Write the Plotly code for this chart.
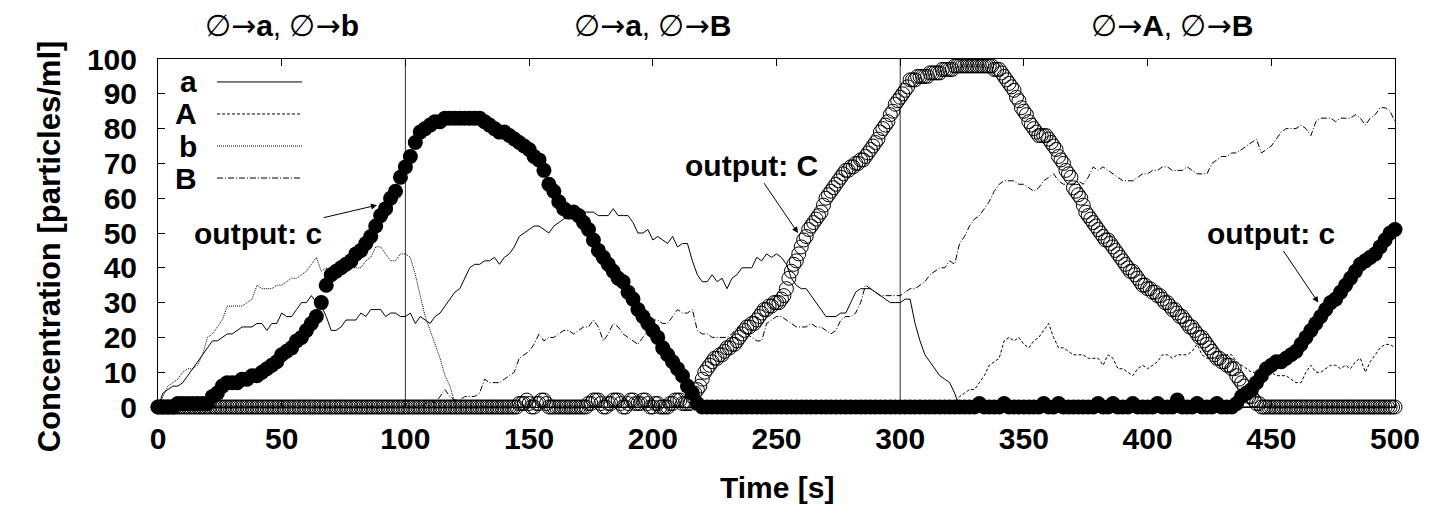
import plotly.graph_objects as go

# time axis of the lines and of c, one sample every 2 s
t = list(range(0, 501, 2))
# time axis of C, one sample every 1 s
tC = list(range(0, 501))

# a: solid line
a = [0, 4, 5, 6, 6, 7, 9, 11, 13, 15,
     17, 19, 19, 20, 21, 21, 22, 23, 23, 23,
     24, 24, 22, 24, 24, 27, 26, 26, 28, 30,
     30, 32, 30, 29, 26, 22, 22, 23, 25, 25,
     25, 27, 26, 28, 28, 28, 26, 27, 27, 26,
     26, 27, 24, 26, 25, 24, 26, 27, 29, 31,
     33, 34, 37, 40, 41, 41, 42, 42, 43, 41,
     43, 44, 46, 49, 50, 51, 52, 52, 51, 50,
     52, 53, 54, 55, 55, 55, 56, 56, 56, 55,
     55, 55, 57, 55, 55, 55, 53, 50, 50, 51,
     48, 49, 48, 47, 49, 46, 47, 47, 42, 38,
     36, 36, 38, 36, 37, 34, 37, 38, 40, 40,
     40, 43, 42, 44, 43, 44, 43, 41, 37, 35,
     34, 34, 32, 30, 28, 26, 26, 26, 27, 27,
     30, 33, 34, 34, 34, 33, 32, 31, 30, 30,
     30, 31, 31, 24, 19, 15, 13, 11, 9, 8,
     7, 4, 0, 0, 0, 0, 0, 0, 0, 0,
     0, 0, 0, 0, 0, 0, 0, 0, 0, 0,
     0, 0, 0, 0, 0, 0, 0, 0, 0, 0,
     0, 0, 0, 0, 0, 0, 0, 0, 0, 0,
     0, 0, 0, 0, 0, 0, 0, 0, 0, 0,
     0, 0, 0, 0, 0, 0, 0, 0, 0, 0,
     0, 0, 0, 0, 0, 0, 0, 0, 0, 0,
     0, 0, 0, 0, 0, 0, 0, 0, 0, 0,
     0, 0, 0, 0, 0, 0, 0, 0, 0, 0,
     0]

# A: dashed line
A = [0, 0, 0, 0, 0, 0, 0, 0, 0, 0,
     0, 0, 0, 0, 0, 0, 0, 0, 0, 0,
     0, 0, 0, 0, 0, 0, 0, 0, 0, 0,
     0, 0, 0, 0, 0, 0, 0, 0, 0, 0,
     0, 0, 0, 0, 0, 0, 0, 0, 0, 0,
     0, 0, 0, 0, 0, 0, 0, 0, 0, 0,
     0, 0, 0, 0, 0, 0, 0, 0, 0, 0,
     0, 0, 0, 0, 0, 0, 0, 0, 0, 0,
     0, 0, 0, 0, 0, 0, 0, 0, 0, 0,
     0, 0, 0, 0, 0, 0, 0, 0, 0, 0,
     0, 0, 0, 0, 0, 0, 0, 0, 0, 0,
     0, 0, 0, 0, 0, 0, 0, 0, 0, 0,
     0, 0, 0, 0, 0, 0, 0, 0, 0, 0,
     0, 0, 0, 0, 0, 0, 0, 0, 0, 0,
     0, 0, 0, 0, 0, 0, 0, 0, 0, 0,
     0, 0, 0, 0, 0, 0, 0, 0, 0, 0,
     0, 1, 3, 4, 5, 5, 7, 9, 12, 13,
     14, 19, 20, 19, 20, 18, 17, 19, 20, 22,
     24, 20, 17, 17, 16, 15, 15, 15, 14, 14,
     14, 12, 15, 14, 11, 11, 10, 9, 11, 12,
     11, 12, 13, 15, 15, 14, 15, 15, 15, 16,
     18, 15, 14, 14, 14, 14, 15, 15, 13, 12,
     11, 10, 10, 10, 10, 10, 9, 9, 9, 8,
     7, 7, 10, 12, 10, 10, 11, 12, 12, 11,
     12, 11, 13, 14, 10, 13, 15, 17, 18, 18,
     17]

# b: dotted line
b = [0, 3, 6, 7, 8, 10, 11, 11, 12, 15,
     20, 21, 23, 25, 29, 29, 29, 29, 30, 31,
     35, 34, 34, 34, 35, 35, 36, 37, 37, 38,
     39, 41, 43, 39, 40, 39, 40, 40, 41, 40,
     40, 40, 42, 43, 46, 46, 44, 42, 42, 44,
     44, 43, 38, 32, 26, 22, 18, 14, 9, 6,
     1, 0, 0, 0, 0, 0, 0, 0, 0, 0,
     0, 0, 0, 0, 0, 0, 0, 0, 0, 0,
     0, 0, 0, 0, 0, 0, 0, 0, 0, 0,
     0, 0, 0, 0, 0, 0, 0, 0, 0, 0,
     0, 0, 0, 0, 0, 0, 0, 0, 0, 0,
     0, 0, 0, 0, 0, 0, 0, 0, 0, 0,
     0, 0, 0, 0, 0, 0, 0, 0, 0, 0,
     0, 0, 0, 0, 0, 0, 0, 0, 0, 0,
     0, 0, 0, 0, 0, 0, 0, 0, 0, 0,
     0, 0, 0, 0, 0, 0, 0, 0, 0, 0,
     0, 0, 0, 0, 0, 0, 0, 0, 0, 0,
     0, 0, 0, 0, 0, 0, 0, 0, 0, 0,
     0, 0, 0, 0, 0, 0, 0, 0, 0, 0,
     0, 0, 0, 0, 0, 0, 0, 0, 0, 0,
     0, 0, 0, 0, 0, 0, 0, 0, 0, 0,
     0, 0, 0, 0, 0, 0, 0, 0, 0, 0,
     0, 0, 0, 0, 0, 0, 0, 0, 0, 0,
     0, 0, 0, 0, 0, 0, 0, 0, 0, 0,
     0, 0, 0, 0, 0, 0, 0, 0, 0, 0,
     0]

# B: dash-dot line
B = [0, 0, 0, 0, 0, 0, 0, 0, 0, 0,
     0, 0, 0, 0, 0, 0, 0, 0, 0, 0,
     0, 0, 0, 0, 0, 0, 0, 0, 0, 0,
     0, 0, 0, 0, 0, 0, 0, 0, 0, 0,
     0, 0, 0, 0, 0, 0, 0, 0, 0, 0,
     0, 0, 0, 0, 1, 2, 1, 3, 5, 3,
     2, 2, 3, 3, 3, 4, 8, 7, 7, 7,
     8, 9, 10, 14, 15, 16, 18, 21, 19, 20,
     20, 21, 22, 22, 21, 22, 23, 23, 25, 23,
     19, 21, 24, 23, 21, 20, 19, 18, 20, 22,
     25, 25, 24, 24, 26, 28, 27, 27, 28, 22,
     21, 21, 20, 20, 20, 20, 21, 23, 22, 21,
     20, 19, 19, 24, 25, 26, 26, 25, 24, 23,
     23, 23, 24, 23, 23, 22, 21, 22, 25, 26,
     26, 27, 30, 35, 34, 33, 32, 32, 32, 32,
     32, 33, 34, 34, 35, 36, 38, 39, 40, 40,
     42, 41, 47, 49, 52, 54, 55, 57, 59, 62,
     64, 65, 65, 65, 64, 64, 63, 62, 63, 65,
     66, 67, 65, 64, 64, 64, 65, 64, 66, 69,
     68, 69, 68, 67, 66, 65, 65, 65, 66, 67,
     67, 68, 68, 69, 69, 68, 68, 68, 69, 68,
     67, 67, 67, 70, 71, 72, 72, 73, 73, 74,
     75, 76, 77, 73, 74, 75, 77, 79, 80, 80,
     80, 81, 80, 78, 82, 83, 83, 83, 82, 83,
     83, 83, 84, 83, 81, 83, 84, 86, 86, 85,
     82]

# c: output, filled circles
c = [0, 0, 0, 0, 1, 1, 1, 1, 1, 1,
     1, 3, 4, 6, 7, 7, 7, 8, 8, 9,
     9, 10, 11, 12, 13, 15, 16, 17, 19, 20,
     22, 24, 26, 30, 35, 38, 39, 40, 41, 42,
     44, 45, 47, 49, 52, 55, 57, 60, 62, 66,
     69, 72, 76, 79, 80, 81, 82, 82, 83, 83,
     83, 83, 83, 83, 83, 83, 82, 81, 80, 79,
     79, 78, 77, 76, 75, 74, 72, 71, 68, 64,
     62, 59, 57, 56, 56, 55, 53, 51, 48, 45,
     43, 41, 39, 37, 36, 33, 31, 28, 26, 24,
     22, 20, 17, 15, 13, 11, 9, 6, 4, 1,
     0, 0, 0, 0, 0, 0, 0, 0, 0, 0,
     0, 0, 0, 0, 0, 0, 0, 0, 0, 0,
     0, 0, 0, 0, 0, 0, 0, 0, 0, 0,
     0, 0, 0, 0, 0, 0, 0, 0, 0, 0,
     0, 0, 0, 0, 0, 0, 0, 0, 0, 0,
     0, 0, 0, 0, 0, 0, 1, 0, 0, 0,
     0, 1, 0, 0, 0, 0, 0, 0, 0, 1,
     0, 0, 1, 0, 0, 0, 0, 0, 0, 0,
     1, 0, 0, 1, 0, 0, 0, 1, 0, 0,
     0, 0, 1, 0, 0, 0, 2, 0, 0, 0,
     1, 0, 0, 0, 1, 0, 0, 0, 1, 3,
     4, 5, 7, 9, 11, 12, 13, 13, 14, 15,
     16, 18, 20, 22, 24, 26, 28, 30, 31, 33,
     35, 37, 39, 41, 42, 43, 44, 46, 48, 50,
     51]

# C: output, open circles (1 s steps)
C = [0, 0, 0, 0, 0, 0, 0, 0, 0, 0,
     0, 0, 0, 0, 0, 0, 0, 0, 0, 0,
     0, 0, 0, 0, 0, 0, 0, 0, 0, 0,
     0, 0, 0, 0, 0, 0, 0, 0, 0, 0,
     0, 0, 0, 0, 0, 0, 0, 0, 0, 0,
     0, 0, 0, 0, 0, 0, 0, 0, 0, 0,
     0, 0, 0, 0, 0, 0, 0, 0, 0, 0,
     0, 0, 0, 0, 0, 0, 0, 0, 0, 0,
     0, 0, 0, 0, 0, 0, 0, 0, 0, 0,
     0, 0, 0, 0, 0, 0, 0, 0, 0, 0,
     0, 0, 0, 0, 0, 0, 0, 0, 0, 0,
     0, 0, 0, 0, 0, 0, 0, 0, 0, 0,
     0, 0, 0, 0, 0, 0, 0, 0, 0, 0,
     0, 0, 0, 0, 0, 0, 0, 0, 0, 0,
     0, 0, 0, 0, 0, 0, 1, 1, 1, 2,
     1, 0, 0, 1, 1, 2, 2, 1, 0, 0,
     0, 0, 0, 0, 0, 0, 0, 0, 0, 0,
     0, 0, 0, 0, 1, 1, 2, 2, 2, 1,
     0, 0, 1, 1, 2, 2, 2, 1, 0, 0,
     1, 2, 2, 1, 1, 1, 2, 2, 1, 0,
     0, 1, 1, 0, 0, 0, 0, 1, 1, 2,
     2, 2, 1, 1, 1, 1, 3, 4, 5, 6,
     8, 10, 11, 12, 13, 14, 14, 15, 15, 16,
     17, 17, 18, 18, 19, 20, 21, 22, 23, 23,
     24, 24, 25, 26, 27, 28, 28, 29, 29, 30,
     30, 30, 31, 32, 34, 37, 39, 41, 42, 44,
     46, 48, 49, 51, 52, 53, 54, 55, 56, 58,
     60, 61, 62, 63, 64, 65, 66, 67, 68, 68,
     69, 69, 70, 70, 71, 71, 72, 73, 74, 75,
     76, 77, 79, 80, 81, 82, 84, 85, 87, 88,
     89, 90, 91, 92, 94, 94, 94, 95, 95, 95,
     95, 95, 96, 96, 96, 96, 96, 97, 97, 97,
     97, 97, 98, 98, 98, 98, 98, 98, 98, 98,
     98, 98, 98, 98, 98, 98, 98, 98, 97, 97,
     97, 96, 95, 94, 93, 92, 91, 89, 88, 86,
     85, 84, 82, 81, 80, 79, 78, 78, 78, 78,
     77, 76, 75, 74, 72, 71, 70, 68, 67, 66,
     63, 62, 61, 60, 58, 56, 55, 54, 53, 52,
     51, 50, 49, 48, 48, 47, 46, 45, 44, 43,
     42, 41, 40, 39, 39, 38, 37, 36, 35, 35,
     34, 34, 33, 33, 32, 32, 31, 30, 30, 29,
     28, 28, 27, 26, 26, 25, 24, 23, 23, 22,
     21, 20, 20, 19, 18, 17, 16, 15, 14, 14,
     13, 13, 12, 12, 11, 11, 9, 8, 7, 6,
     4, 3, 3, 2, 1, 1, 0, 0, 0, 0,
     0, 0, 0, 0, 0, 0, 0, 0, 0, 0,
     0, 0, 0, 0, 0, 0, 0, 0, 0, 0,
     0, 0, 0, 0, 0, 0, 0, 0, 0, 0,
     0, 0, 0, 0, 0, 0, 0, 0, 0, 0,
     0, 0, 0, 0, 0, 0, 0, 0, 0, 0,
     0]

ARROW = "<span style='font-family:DejaVu Sans'>→</span>"
phase_labels = ["∅" + ARROW + "<b>a</b>, ∅" + ARROW + "<b>b</b>",
                "∅" + ARROW + "<b>a</b>, ∅" + ARROW + "<b>B</b>",
                "∅" + ARROW + "<b>A</b>, ∅" + ARROW + "<b>B</b>"]
phase_label_x = [50, 200, 410]
phase_bounds = [100, 300]

# (text, arrow head x, y, text x, y)
outputs = [("output: c", 88.5, 58, 40.5, 50),
           ("output: C", 258.7, 50, 240, 69.5),
           ("output: c", 469, 30, 450, 50)]

FONT = "Liberation Sans, Arial, Helvetica, sans-serif"
bold = dict(family=FONT, size=30, color="black", weight="bold")
plain = dict(family=FONT, size=30, color="black")

line_series = [("a", a, "solid"), ("A", A, "3px,2px"),
               ("b", b, "1px,1px"), ("B", B, "6px,2px,1px,2px")]

fig = go.Figure()
for name, ys, dash in line_series:
    fig.add_trace(go.Scatter(x=t, y=ys, mode="lines", name=name,
                             line=dict(color="black", width=1, dash=dash),
                             showlegend=False, cliponaxis=False))

fig.add_trace(go.Scatter(x=t, y=c, mode="markers", name="c",
                         marker=dict(symbol="circle", size=15, color="black"),
                         showlegend=False, cliponaxis=False))
fig.add_trace(go.Scatter(x=tC, y=C, mode="markers", name="C",
                         marker=dict(symbol="circle-open", size=14, color="black",
                                     line=dict(width=1)),
                         showlegend=False, cliponaxis=False))

for xb in phase_bounds:
    fig.add_shape(type="line", xref="x", yref="y", x0=xb, x1=xb, y0=0, y1=100,
                  line=dict(color="#333", width=1), layer="below")

annotations = []
for lab, xl in zip(phase_labels, phase_label_x):
    annotations.append(dict(text=lab, x=xl, y=1.095, xref="x", yref="paper",
                            showarrow=False, font=plain, yanchor="middle"))

for txt, hx, hy, tx, ty in outputs:
    annotations.append(dict(text=txt, x=hx, y=hy, ax=tx, ay=ty, xref="x", yref="y",
                            axref="x", ayref="y", showarrow=True, arrowhead=2,
                            arrowsize=1.2, arrowwidth=1, arrowcolor="black",
                            font=bold))

# gnuplot style key: label on the left, line sample on the right
key_y = [0.934, 0.842, 0.750, 0.658]
for (name, ys, dash), ky in zip(line_series, key_y):
    annotations.append(dict(text=name, x=0.033, y=ky, xref="paper", yref="paper",
                            xanchor="right", yanchor="middle", showarrow=False,
                            font=bold))
    fig.add_shape(type="line", xref="paper", yref="paper", x0=0.0477, x1=0.1164,
                  y0=ky, y1=ky, line=dict(color="black", width=1, dash=dash))

annotations.append(dict(text="Concentration [particles/ml]", x=-0.1035, y=0.463,
                        xref="paper", yref="paper", textangle=-90, showarrow=False,
                        font=dict(bold, size=31)))
annotations.append(dict(text="Time [s]", x=0.5, y=-0.232, xref="paper", yref="paper",
                        showarrow=False, yanchor="middle", font=bold))

axis_style = dict(showline=True, linecolor="black", linewidth=1, mirror="ticks",
                  ticks="inside", ticklen=7, tickcolor="black", showgrid=False,
                  zeroline=False, tickfont=bold)

# page body keeps an 8px margin, so the figure is 8px smaller on each axis
fig.update_layout(
    width=1433, height=497,
    margin=dict(l=150, r=46, t=51, b=98),
    paper_bgcolor="white", plot_bgcolor="white",
    xaxis=dict(axis_style, range=[0, 500], dtick=50, ticklabelstandoff=5),
    yaxis=dict(axis_style, range=[0, 100], dtick=10, ticklabelstandoff=14),
    annotations=annotations,
)

fig.write_html("out.html")
